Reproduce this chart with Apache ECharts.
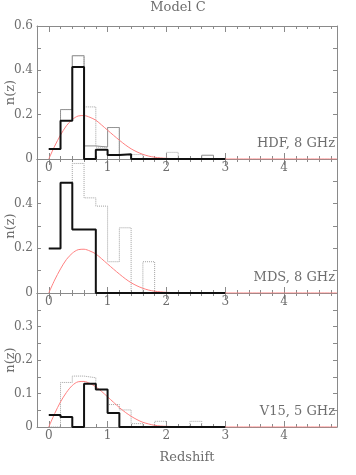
<!DOCTYPE html>
<html>
<head>
<meta charset="utf-8">
<script src="https://cdn.jsdelivr.net/npm/echarts@6/dist/echarts.min.js"></script>
<style>
  html, body { margin: 0; padding: 0; background: #fff; }
  #chart { width: 356px; height: 475px; }
</style>
</head>
<body>
<div id="chart"></div>
<script>
// bin edges of the histograms (width 0.2, 0 -> 3)
const binEdges = [0, 0.2, 0.4, 0.6, 0.8, 1.0, 1.2, 1.4, 1.6, 1.8, 2.0, 2.2, 2.4, 2.6, 2.8, 3.0];

// HDF, 8 GHz
const hdfBlack  = [0.045, 0.173, 0.415, 0, 0.042, 0.018, 0.021, 0, 0, 0, 0, 0, 0, 0, 0];
const hdfGray   = [0.045, 0.223, 0.466, 0.059, 0.054, 0.142, 0.02, 0, 0, 0, 0, 0, 0, 0.017, 0];
const hdfDotted = [0.045, 0.223, 0.466, 0.235, 0.054, 0.142, 0.02, 0.02, 0, 0, 0.03, 0, 0, 0, 0];

// MDS, 8 GHz
const mdsBlack  = [0.199, 0.494, 0.284, 0.284, 0, 0, 0, 0, 0, 0, 0, 0, 0, 0, 0];
const mdsDotted = [0.199, 0.494, 0.58, 0.426, 0.389, 0.14, 0.292, 0, 0.14, 0, 0, 0, 0, 0, 0];

// V15, 5 GHz
const v15Black  = [0.036, 0.03, 0, 0.129, 0.112, 0.042, 0, 0, 0, 0, 0, 0, 0, 0, 0];
const v15Dotted = [0, 0.133, 0.152, 0.147, 0.112, 0.067, 0.051, 0.01, 0, 0.017, 0, 0, 0.017, 0, 0];

// model curve (red)
const curveZ   = [0, 0.1, 0.2, 0.3, 0.4, 0.5, 0.6, 0.7, 0.8, 0.9, 1.0, 1.1, 1.2, 1.3, 1.4, 1.5, 1.6, 1.7, 1.8, 1.9, 2.0, 2.2, 2.5, 3.0, 4.9];
const curve8G  = [0, 0.058, 0.108, 0.15, 0.178, 0.194, 0.196, 0.188, 0.175, 0.153, 0.13, 0.107, 0.085, 0.064, 0.046, 0.032, 0.021, 0.013, 0.008, 0.005, 0.003, 0.001, 0, 0, 0];
const curve5G  = [0, 0.04, 0.075, 0.103, 0.124, 0.135, 0.136, 0.13, 0.12, 0.106, 0.09, 0.074, 0.058, 0.044, 0.032, 0.022, 0.014, 0.009, 0.005, 0.003, 0.002, 0.001, 0, 0, 0];

const xTickLabels = [0, 1, 2, 3, 4];
const panelLabels = ['HDF, 8 GHz', 'MDS, 8 GHz', 'V15, 5 GHz'];

const FONT = 'DejaVu Serif';
const AXIS_GRAY = '#8a8a8a';
const TEXT_GRAY = '#6e6e6e';

// panel boxes
const grids = [
    { left: 37, width: 300, top: 26, height: 133, outerBoundsMode: 'none' },
    { left: 37, width: 300, top: 159, height: 134, outerBoundsMode: 'none' },
    { left: 37, width: 300, top: 293, height: 134, outerBoundsMode: 'none' }
];

function xAxesFor(g, withName) {
    const base = {
        type: 'value', gridIndex: g, min: -0.2, max: 4.9, interval: 0.2,
        axisLine: { onZero: false, lineStyle: { color: AXIS_GRAY, width: 1 } },
        splitLine: { show: false }
    };
    return [
        // bottom: minor ticks + labels
        Object.assign({}, base, {
            position: 'bottom',
            axisTick: { inside: true, length: 3, lineStyle: { color: AXIS_GRAY } },
            axisLabel: {
                customValues: xTickLabels,
                margin: 3, color: TEXT_GRAY, fontFamily: FONT, fontSize: 12
            },
            name: withName ? 'Redshift' : '',
            nameLocation: 'middle', nameGap: 24, nameMoveOverlap: false,
            nameTextStyle: { color: TEXT_GRAY, fontFamily: FONT, fontSize: 13 }
        }),
        // bottom: major ticks
        Object.assign({}, base, {
            position: 'bottom',
            axisLine: { show: false, onZero: false },
            axisTick: { inside: true, length: 6, customValues: xTickLabels, lineStyle: { color: AXIS_GRAY } },
            axisLabel: { show: false }
        }),
        // top: minor ticks
        Object.assign({}, base, {
            position: 'top',
            axisTick: { inside: true, length: 3, lineStyle: { color: AXIS_GRAY } },
            axisLabel: { show: false }
        }),
        // top: major ticks
        Object.assign({}, base, {
            position: 'top',
            axisLine: { show: false, onZero: false },
            axisTick: { inside: true, length: 6, customValues: xTickLabels, lineStyle: { color: AXIS_GRAY } },
            axisLabel: { show: false }
        })
    ];
}

function yAxesFor(g, max, interval, labelFn) {
    const base = {
        type: 'value', gridIndex: g, min: 0, max: max, interval: interval,
        axisLine: { show: true, onZero: false, lineStyle: { color: AXIS_GRAY, width: 1 } },
        axisTick: { show: true, inside: true, length: 4, lineStyle: { color: AXIS_GRAY } },
        splitLine: { show: false }
    };
    return [
        Object.assign({}, base, {
            position: 'left',
            axisLabel: {
                margin: 4, color: TEXT_GRAY, fontFamily: FONT, fontSize: 12,
                formatter: v => labelFn(v) ? String(+v.toFixed(2)) : ''
            },
            name: 'n(z)', nameLocation: 'middle', nameGap: 20, nameMoveOverlap: false,
            nameTextStyle: { color: TEXT_GRAY, fontFamily: FONT, fontSize: 13 }
        }),
        Object.assign({}, base, {
            position: 'right',
            axisLabel: { show: false }
        })
    ];
}

// histogram as step line: one point per bin start + closing edge
function histData(vals) {
    return binEdges.map((e, i) => [e, vals[Math.min(i, vals.length - 1)]]);
}

function histSeries(g, vals, style) {
    return {
        type: 'line', xAxisIndex: g * 4, yAxisIndex: g * 2,
        step: 'end', symbol: 'none', data: histData(vals),
        lineStyle: style, z: style.z || 3, silent: true
    };
}

function curveSeries(g, vals) {
    return {
        type: 'line', xAxisIndex: g * 4, yAxisIndex: g * 2,
        symbol: 'none', smooth: 0.3, z: 4, silent: true,
        data: curveZ.map((z, i) => [z, vals[i]]),
        lineStyle: { color: '#ff8080', width: 1 }
    };
}

const grayLine = { color: '#8c8c8c', width: 1 };
const dotLine = { color: '#a0a0a0', width: 1, type: 'dotted' };
const blackLine = { color: '#111', width: 2, z: 5 };

const even2 = v => Math.round(v * 10) % 2 === 0;

const option = {
    animation: false,
    backgroundColor: '#fff',
    grid: grids,
    xAxis: [].concat(xAxesFor(0, false), xAxesFor(1, false), xAxesFor(2, true)),
    yAxis: [].concat(
        yAxesFor(0, 0.6, 0.1, v => even2(v)),
        yAxesFor(1, 0.6, 0.1, v => even2(v) && v < 0.55),
        yAxesFor(2, 0.4, 0.05, v => Math.round(v * 100) % 10 === 0 && v < 0.35)
    ),
    series: [
        histSeries(0, hdfGray, grayLine),
        histSeries(0, hdfDotted, dotLine),
        curveSeries(0, curve8G),
        histSeries(0, hdfBlack, blackLine),

        histSeries(1, mdsDotted, dotLine),
        curveSeries(1, curve8G),
        histSeries(1, mdsBlack, blackLine),

        histSeries(2, v15Dotted, dotLine),
        curveSeries(2, curve5G),
        histSeries(2, v15Black, blackLine)
    ],
    graphic: [
        {
            type: 'text', left: 'center', top: 1,
            style: { text: 'Model C', fill: TEXT_GRAY, font: '13px "DejaVu Serif"' }
        }
    ].concat(panelLabels.map((t, i) => ({
        type: 'text', right: 21, top: grids[i].top + grids[i].height - 22,
        style: { text: t, fill: TEXT_GRAY, font: '13px "DejaVu Serif"' }
    })))
};

const myChart = echarts.init(document.getElementById('chart'), null, { renderer: 'canvas' });
myChart.setOption(option);
</script>
</body>
</html>
